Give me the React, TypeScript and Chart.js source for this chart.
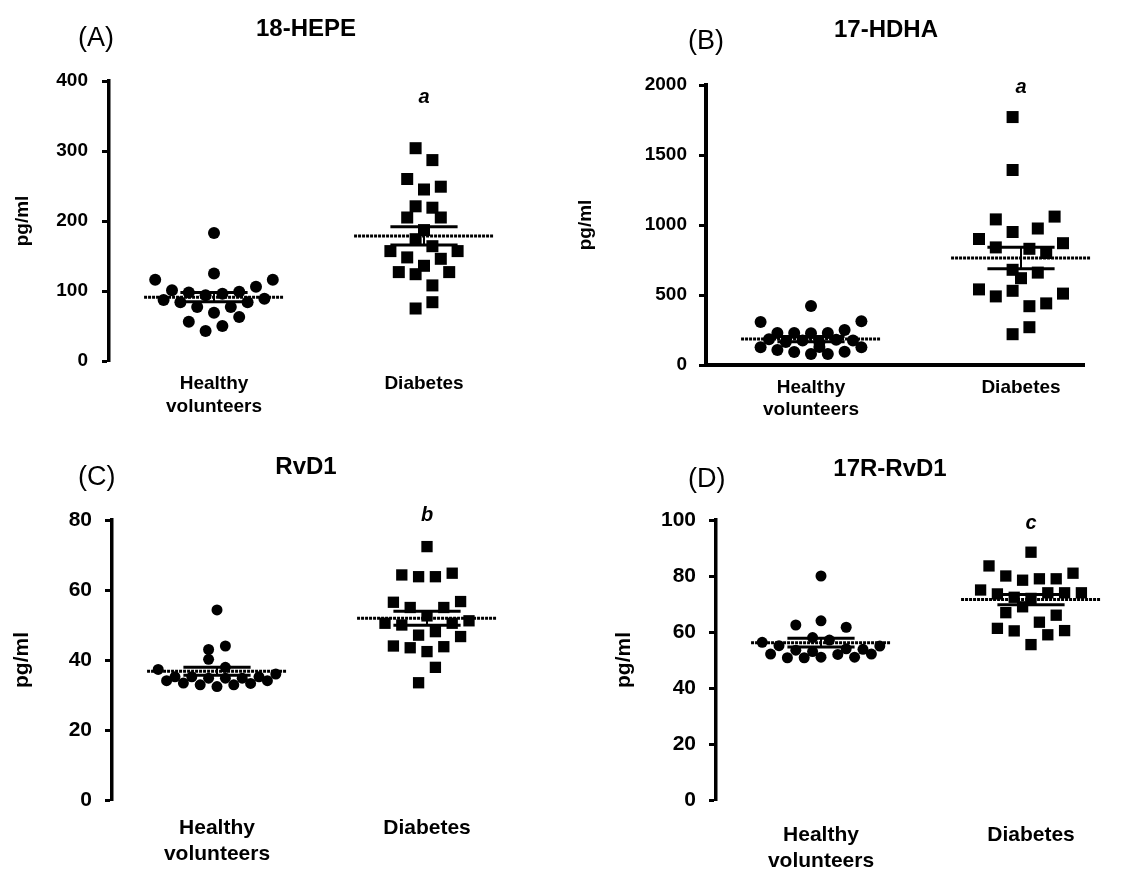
import React, { useEffect, useRef } from 'react';
import { Chart, registerables } from 'chart.js';

Chart.register(...registerables);

// ---------- data ----------
const healthyLabel = ['Healthy', 'volunteers'];
const diabetesLabel = 'Diabetes';
const slotStep = 0.04; // horizontal spacing of the beeswarm columns, in category units

// (A) 18-HEPE, pg/ml
const hepeHealthySlots = [0, 0, -7, 7, -5, 5, -3, -1, 1, 3, -6, -4, 4, 6, -2, 0, 2, 3, -3, 1, -1];
const hepeHealthyValues = [183, 125, 116, 116, 101, 106, 98, 94, 96, 99, 87, 84, 84, 89, 77, 69, 77, 63, 56, 50, 43];
const hepeDiabetesSlots = [-1, 1, -2, 0, 2, -1, 1, -2, 2, 0, -1, 1, -4, 4, -2, 2, 0, -3, -1, 3, 1, 1, -1];
const hepeDiabetesValues = [304, 287, 260, 245, 249, 221, 219, 205, 205, 187, 174, 164, 157, 157, 148, 146, 136, 127, 124, 127, 108, 84, 75];

// (B) 17-HDHA, pg/ml
const hdhaHealthySlots = [0, -6, 6, -4, -2, 0, 2, 4, -5, -3, -1, 1, 3, 5, -6, -4, -2, 0, 2, 4, 6, 1];
const hdhaHealthyValues = [421, 307, 312, 229, 229, 226, 229, 250, 184, 165, 175, 160, 180, 175, 126, 107, 93, 79, 79, 95, 126, 129];
const hdhaDiabetesSlots = [-1, -1, 4, -3, 2, -1, -5, 5, -3, 1, 3, -1, 2, 0, -5, -1, 5, -3, 3, 1, 1, -1];
const hdhaDiabetesValues = [1771, 1393, 1060, 1040, 975, 950, 900, 870, 840, 830, 800, 680, 660, 620, 540, 530, 510, 490, 440, 420, 270, 220];

// (C) RvD1, pg/ml
const rvd1HealthySlots = [0, 1, -1, -1, -7, 1, 7, -6, -5, -4, -3, -2, -1, 0, 1, 2, 3, 4, 5, 6];
const rvd1HealthyValues = [54.3, 44, 43, 40.2, 37.3, 37.9, 36, 34.1, 35.2, 33.4, 35.2, 32.9, 34.8, 32.4, 34.8, 32.9, 34.8, 33.3, 35.2, 34.1];
const rvd1DiabetesSlots = [0, -3, -1, 1, 3, -4, -2, 2, 4, 0, -5, -3, 3, 5, -1, 1, 4, -4, -2, 0, 2, 1, -1];
const rvd1DiabetesValues = [72.4, 64.3, 63.8, 63.8, 64.8, 56.5, 55, 55, 56.7, 52.6, 50.5, 50, 50.5, 51.2, 47.1, 48.1, 46.7, 44, 43.5, 42.4, 43.8, 37.9, 33.5];

// (D) 17R-RvD1, pg/ml
const r17HealthySlots = [-7, -6, -5, -4, -3, -2, -1, 0, 0, 1, 3, 5, 6, 7, -3, -1, 0, 2, 3, 4];
const r17HealthyValues = [56.3, 52.1, 55.1, 50.8, 62.5, 50.8, 58, 80, 64, 57.1, 61.7, 53.8, 52.1, 55, 53.5, 53, 51, 52, 54, 51];
const r17DiabetesSlots = [0, -5, -3, -1, 1, 3, 5, -6, -4, -2, 2, 4, 6, 0, -3, 3, -1, 1, -4, -2, 4, 2, 0];
const r17DiabetesValues = [88.5, 83.6, 80, 78.5, 79, 79, 81, 75, 73.6, 72.4, 74, 74, 74, 72, 66.9, 66, 69, 63.5, 61.3, 60.4, 60.5, 59, 55.5];

const panelLetters = ['(A)', '(B)', '(C)', '(D)'];
const panelTitles = ['18-HEPE', '17-HDHA', 'RvD1', '17R-RvD1'];
const sigLetters = ['a', 'a', 'b', 'c'];
const sigHeights = [376, 1985, 81.4, 98.9];
const yMaxes = [400, 2000, 80, 100];
const ySteps = [100, 500, 20, 20];
const yTitle = 'pg/ml';

// ---------- layout / style ----------
const FONT = "'Liberation Sans', Arial, Helvetica, sans-serif";

type Layout = {
  left: number; top: number; w: number; h: number;
  yAxisWidth: number; padTop: number; xAxisHeight: number; padRight: number;
  xMax: number; font: number; tickPad: number; titlePad: number; xLabelPad: number;
  circleR: number; rectR: number; dotted: boolean;
  letterX: number; letterY: number; titleX: number; titleY: number;
};

const layouts: Layout[] = [
  { left: 0, top: 0, w: 560, h: 440, yAxisWidth: 109, padTop: 81, xAxisHeight: 79, padRight: 52, xMax: 1.4,
    font: 19, tickPad: 14, titlePad: 11.6, xLabelPad: 11.6, circleR: 6, rectR: 8.5, dotted: false,
    letterX: 78, letterY: 37, titleX: 306, titleY: 28 },
  { left: 560, top: 0, w: 567, h: 440, yAxisWidth: 146, padTop: 85, xAxisHeight: 75, padRight: 43, xMax: 1.3,
    font: 19, tickPad: 12, titlePad: 14.6, xLabelPad: 11, circleR: 6, rectR: 8.5, dotted: true,
    letterX: 688, letterY: 40, titleX: 886, titleY: 29 },
  { left: 0, top: 440, w: 560, h: 434, yAxisWidth: 112, padTop: 80, xAxisHeight: 74, padRight: 49, xMax: 1.4,
    font: 21, tickPad: 13, titlePad: 9.4, xLabelPad: 16, circleR: 5.5, rectR: 8, dotted: false,
    letterX: 78, letterY: 476, titleX: 306, titleY: 466 },
  { left: 560, top: 440, w: 567, h: 434, yAxisWidth: 156, padTop: 80, xAxisHeight: 74, padRight: 12, xMax: 1.4,
    font: 21, tickPad: 13, titlePad: 51.4, xLabelPad: 23, circleR: 5.5, rectR: 8, dotted: false,
    letterX: 688, letterY: 478, titleX: 890, titleY: 468 },
];

const groups = [
  [hepeHealthySlots, hepeHealthyValues, hepeDiabetesSlots, hepeDiabetesValues],
  [hdhaHealthySlots, hdhaHealthyValues, hdhaDiabetesSlots, hdhaDiabetesValues],
  [rvd1HealthySlots, rvd1HealthyValues, rvd1DiabetesSlots, rvd1DiabetesValues],
  [r17HealthySlots, r17HealthyValues, r17DiabetesSlots, r17DiabetesValues],
];

function stats(vals: number[]) {
  const n = vals.length;
  const mean = vals.reduce((a, b) => a + b, 0) / n;
  const sd = Math.sqrt(vals.reduce((a, b) => a + (b - mean) * (b - mean), 0) / (n - 1));
  return { mean, sem: sd / Math.sqrt(n) };
}

function lineDs(points: { x: number; y: number }[], width: number, dash: number[]) {
  return {
    type: 'scatter' as const,
    data: points,
    showLine: true,
    borderColor: '#000',
    backgroundColor: '#000',
    borderWidth: width,
    borderDash: dash,
    pointRadius: 0,
    fill: false,
    clip: false as const,
  };
}

function summaryDatasets(center: number, vals: number[]) {
  const { mean, sem } = stats(vals);
  const mh = 0.333;
  const sh = 0.16;
  return [
    lineDs([{ x: center - mh, y: mean }, { x: center + mh, y: mean }], 3, [3, 1]),
    lineDs([{ x: center - sh, y: mean + sem }, { x: center + sh, y: mean + sem }], 3, []),
    lineDs([{ x: center - sh, y: mean - sem }, { x: center + sh, y: mean - sem }], 3, []),
    lineDs([{ x: center, y: mean - sem }, { x: center, y: mean + sem }], 2, []),
  ];
}

const sigPlugin = {
  id: 'sigLetter',
  afterDatasetsDraw(chart: any, _args: any, opts: any) {
    const { ctx, scales } = chart;
    ctx.save();
    ctx.font = opts.font;
    ctx.fillStyle = '#000';
    ctx.textAlign = 'center';
    ctx.textBaseline = 'middle';
    ctx.fillText(opts.text, scales.x.getPixelForValue(1), scales.y.getPixelForValue(opts.value));
    ctx.restore();
  },
};

function Panel({ idx }: { idx: number }) {
  const ref = useRef<HTMLCanvasElement | null>(null);
  const L = layouts[idx];
  useEffect(() => {
    const [hs, hv, ds, dv] = groups[idx];
    const healthyPts = hv.map((v, i) => ({ x: 0 + hs[i] * slotStep, y: v }));
    const diabetesPts = dv.map((v, i) => ({ x: 1 + ds[i] * slotStep, y: v }));
    const borderDash = L.dotted ? [2, 1.5] : [];
    const chart = new Chart(ref.current as HTMLCanvasElement, {
      type: 'scatter',
      data: {
        datasets: [
          ...summaryDatasets(0, hv),
          ...summaryDatasets(1, dv),
          {
            data: healthyPts,
            pointStyle: 'circle',
            pointRadius: L.circleR,
            backgroundColor: '#000',
            borderColor: '#000',
            borderWidth: 0,
            clip: false,
          } as any,
          {
            data: diabetesPts,
            pointStyle: 'rect',
            pointRadius: L.rectR,
            backgroundColor: '#000',
            borderColor: '#000',
            borderWidth: 0,
            clip: false,
          } as any,
        ],
      },
      options: {
        responsive: false,
        animation: false,
        events: [],
        layout: { padding: { left: 0, top: L.padTop, right: L.padRight, bottom: 0 } },
        plugins: {
          legend: { display: false },
          tooltip: { enabled: false },
          sigLetter: { text: sigLetters[idx], value: sigHeights[idx], font: `italic bold 20px ${FONT}` },
        } as any,
        scales: {
          x: {
            type: 'linear',
            min: -0.5,
            max: L.xMax,
            afterBuildTicks: (scale: any) => {
              scale.ticks = [{ value: 0 }, { value: 1 }];
            },
            afterFit: (scale: any) => {
              scale.height = L.xAxisHeight;
            },
            grid: { display: false, drawTicks: false },
            border: { display: L.dotted, color: '#000', width: 4, dash: borderDash },
            ticks: {
              autoSkip: false,
              maxRotation: 0,
              minRotation: 0,
              padding: L.xLabelPad,
              color: '#000',
              font: { family: FONT, size: L.font, weight: 'bold' },
              callback: (v: any) => (v === 0 ? healthyLabel : v === 1 ? diabetesLabel : ''),
            },
          },
          y: {
            type: 'linear',
            min: 0,
            max: yMaxes[idx],
            afterFit: (scale: any) => {
              scale.width = L.yAxisWidth;
            },
            grid: {
              drawOnChartArea: false,
              drawTicks: true,
              tickLength: 7,
              tickWidth: 3,
              tickColor: '#000',
              color: '#000',
            },
            border: { display: true, color: '#000', width: L.dotted ? 4 : 3.5, dash: borderDash },
            ticks: {
              stepSize: ySteps[idx],
              padding: L.tickPad,
              color: '#000',
              font: { family: FONT, size: L.font, weight: 'bold' },
              callback: (v: any) => String(v),
            },
            title: {
              display: true,
              text: yTitle,
              color: '#000',
              font: { family: FONT, size: L.font, weight: 'bold' },
              padding: { top: L.titlePad, bottom: 0 },
            },
          },
        },
      } as any,
      plugins: [sigPlugin],
    });
    return () => chart.destroy();
  }, [idx]);
  return (
    <canvas
      ref={ref}
      width={L.w}
      height={L.h}
      style={{ position: 'absolute', left: L.left, top: L.top, width: L.w, height: L.h }}
    />
  );
}

export default function App() {
  return (
    <div style={{ position: 'absolute', left: 0, top: 0, width: 1127, height: 874, background: '#fff', fontFamily: FONT }}>
      {layouts.map((L, i) => (
        <Panel key={'p' + i} idx={i} />
      ))}
      {layouts.map((L, i) => (
        <div
          key={'l' + i}
          style={{ position: 'absolute', left: L.letterX, top: L.letterY - 17, fontSize: 27, lineHeight: '34px', color: '#000', whiteSpace: 'nowrap' }}
        >
          {panelLetters[i]}
        </div>
      ))}
      {layouts.map((L, i) => (
        <div
          key={'t' + i}
          style={{ position: 'absolute', left: L.titleX - 150, top: L.titleY - 15, width: 300, textAlign: 'center', fontSize: 24, fontWeight: 'bold', lineHeight: '30px', color: '#000' }}
        >
          {panelTitles[i]}
        </div>
      ))}
    </div>
  );
}
